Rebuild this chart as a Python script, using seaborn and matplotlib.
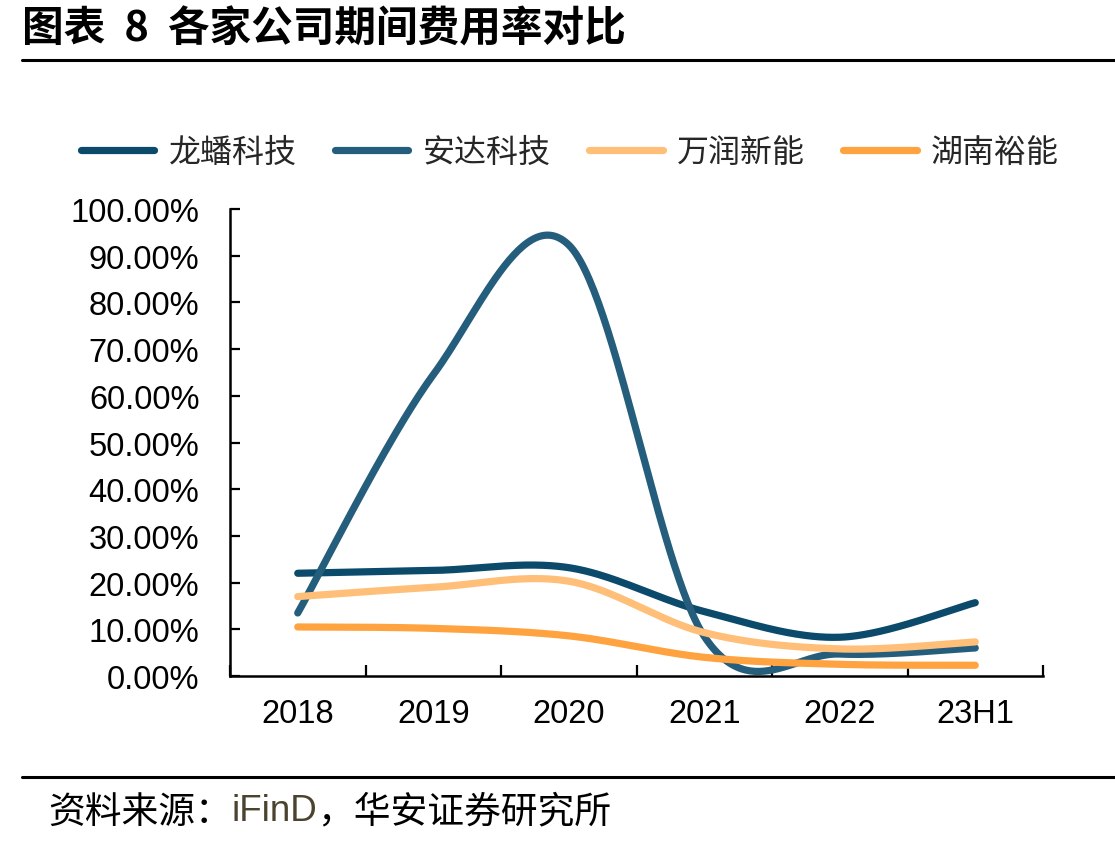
import numpy as np
import pandas as pd
import matplotlib
matplotlib.use("Agg")
import matplotlib.pyplot as plt
from matplotlib.lines import Line2D
import seaborn as sns

# ---------------- data ----------------
categories = ["2018", "2019", "2020", "2021", "2022", "23H1"]
series_names = ["龙蟠科技", "安达科技", "万润新能", "湖南裕能"]
longpan = [22.0, 22.6, 23.2, 13.8, 8.3, 15.7]
anda = [13.5, 64.5, 92.3, 8.5, 4.7, 6.0]
wanrun = [17.0, 19.0, 20.3, 9.3, 5.8, 7.3]
hunan = [10.5, 10.2, 8.6, 4.0, 2.5, 2.3]
yticks = [0, 10, 20, 30, 40, 50, 60, 70, 80, 90, 100]

colors = ["#0b4a6b", "#255e7c", "#ffbf78", "#ffa340"]

sns.set_theme(style="white")
plt.rcParams["font.family"] = ["Liberation Sans", "Noto Sans CJK SC", "DejaVu Sans"]
CJK = ["Noto Sans CJK SC", "Liberation Sans", "DejaVu Sans"]

W, H = 1115, 845
fig = plt.figure(figsize=(W / 100, H / 100), dpi=100)
ax = fig.add_axes([230 / W, 1 - 677 / H, (1043 - 230) / W, (677 - 210) / H])


def smooth(vals, n=60):
    """Excel-like smoothed line (Catmull-Rom Bezier) through the data points."""
    pts = np.column_stack([np.arange(len(vals), dtype=float), np.asarray(vals, float)])
    ext = np.vstack([pts[0], pts, pts[-1]])
    xs, ys = [], []
    for i in range(len(pts) - 1):
        p0, p1, p2, p3 = ext[i], ext[i + 1], ext[i + 2], ext[i + 3]
        b1 = p1 + (p2 - p0) / 6.0
        b2 = p2 - (p3 - p1) / 6.0
        t = np.linspace(0, 1, n)[:, None]
        c = (1 - t) ** 3 * p1 + 3 * (1 - t) ** 2 * t * b1 + 3 * (1 - t) * t ** 2 * b2 + t ** 3 * p2
        xs.append(c[:, 0]); ys.append(c[:, 1])
    return np.concatenate(xs), np.concatenate(ys)


rows = []
for name, vals in zip(series_names, [longpan, anda, wanrun, hunan]):
    sx, sy = smooth(vals)
    for k, (a, b) in enumerate(zip(sx, sy)):
        rows.append({"series": name, "order": k, "x": a, "y": b})
df = pd.DataFrame(rows)

for name, col in zip(series_names, colors):
    sub = df[df["series"] == name]
    sns.lineplot(data=sub, x="x", y="y", sort=False, ax=ax, color=col,
                 linewidth=5.2, solid_capstyle="round", legend=False)

ax.set_xlim(-0.5, len(categories) - 0.5)
ax.set_ylim(0, 100)
ax.set_xlabel("")
ax.set_ylabel("")

ax.set_xticks(range(len(categories)))
ax.set_xticklabels(categories)
ax.set_xticks(np.arange(-0.5, len(categories), 1.0), minor=True)
ax.tick_params(axis="x", which="major", length=0, pad=16, labelsize=23.5, colors="black")
ax.tick_params(axis="x", which="minor", length=8, width=1.6, direction="in", color="black", bottom=True)

ax.set_yticks(yticks)
ax.set_yticklabels([f"{v:.2f}%" for v in yticks])
ax.tick_params(axis="y", which="major", length=7, width=1.6, direction="in", pad=22,
               labelsize=23.5, colors="black", left=True)

for s in ["top", "right"]:
    ax.spines[s].set_visible(False)
for s in ["left", "bottom"]:
    ax.spines[s].set_color("black")
    ax.spines[s].set_linewidth(1.8)
ax.grid(False)

# legend
handles = [Line2D([0], [0], color=c, linewidth=5.2, solid_capstyle="round") for c in colors]
leg = fig.legend(handles, series_names, loc="center", bbox_to_anchor=(570 / W, 1 - 153 / H),
                 ncol=4, frameon=False, prop={"family": CJK, "size": 23},
                 handlelength=2.3, handletextpad=0.45, columnspacing=1.2)

# title and decorations
fig.text(22 / W, 1 - 30 / H, "图表  8  各家公司期间费用率对比", family=CJK, fontsize=30,
         fontweight="bold", ha="left", va="center", color="black")
fig.add_artist(Line2D([22 / W, 1.0], [1 - 61 / H, 1 - 61 / H], color="black", linewidth=2.2))
fig.add_artist(Line2D([22 / W, 1.0], [1 - 778 / H, 1 - 778 / H], color="black", linewidth=2.2))

fs = 26.5
t1 = fig.text(48 / W, 1 - 812 / H, "资料来源：", family=CJK, fontsize=fs, ha="left", va="center", color="black")
fig.canvas.draw()
r = fig.canvas.get_renderer()
bb = t1.get_window_extent(r)
t2 = fig.text(bb.x1 / W, 1 - 812 / H, "iFinD", family=["Liberation Sans"], fontsize=fs,
              ha="left", va="center", color="#4b4330")
bb2 = t2.get_window_extent(r)
fig.text(bb2.x1 / W, 1 - 812 / H, "，华安证券研究所", family=CJK, fontsize=fs,
         ha="left", va="center", color="black")

fig.savefig("out.png", dpi=100, facecolor="white")
